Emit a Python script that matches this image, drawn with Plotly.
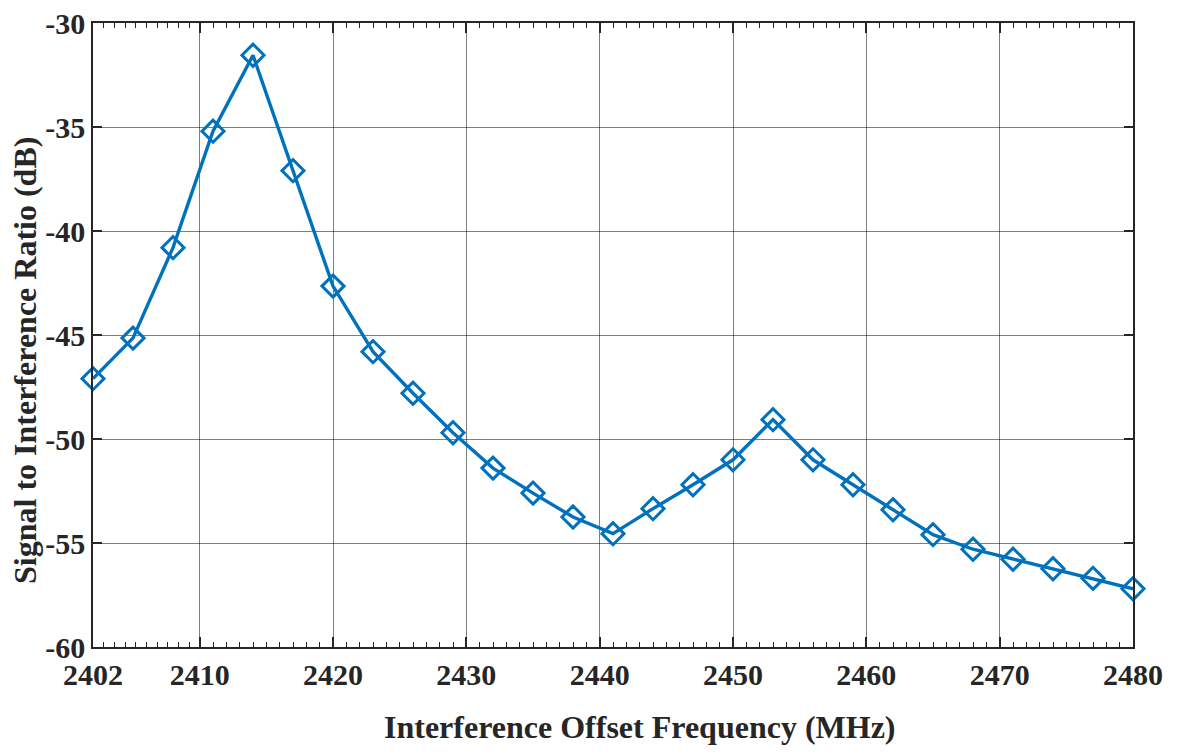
import numpy as np
import plotly.graph_objects as go

# Interference offset frequency (MHz) and measured signal-to-interference ratio (dB)
freq_mhz = [2402, 2405, 2408, 2411, 2414, 2417, 2420, 2423, 2426, 2429, 2432, 2435, 2438, 2441,
            2444, 2447, 2450, 2453, 2456, 2459, 2462, 2465, 2468, 2471, 2474, 2477, 2480]
sir_db = [-47.1, -45.15, -40.8, -35.2, -31.55, -37.1, -42.65, -45.8, -47.8, -49.7, -51.4, -52.6,
          -53.75, -54.55, -53.35, -52.2, -51.0, -49.07, -51.0, -52.2, -53.4, -54.6, -55.3, -55.78,
          -56.24, -56.7, -57.2]

x_ticks = [2402, 2410, 2420, 2430, 2440, 2450, 2460, 2470, 2480]
y_ticks = [-60, -55, -50, -45, -40, -35, -30]

# minor ticks: finer spacing in the first (shorter) interval, 1 MHz afterwards
x_minor = list(np.linspace(2402, 2410, 11)[1:-1]) + [v for v in range(2411, 2480) if v % 10 != 0]

blue = "#0072BD"
axis_col = "#262626"
font_family = "Liberation Serif"

fig = go.Figure()
fig.add_trace(go.Scatter(
    x=freq_mhz, y=sir_db, mode="lines+markers",
    line=dict(color=blue, width=3.4),
    marker=dict(symbol="diamond-open", size=17, color=blue, line=dict(width=3, color=blue)),
    showlegend=False, cliponaxis=False,
))

fig.update_layout(
    width=1186, height=756,
    margin=dict(l=93, r=53, t=23, b=109, autoexpand=False),
    paper_bgcolor="white", plot_bgcolor="white",
    font=dict(family=font_family, size=30, color=axis_col),
)
fig.update_xaxes(
    range=[2402, 2480], tickmode="array", tickvals=x_ticks,
    ticktext=[f"<b>{v}</b>" for v in x_ticks],
    showline=True, linecolor=axis_col, linewidth=1.6, mirror="ticks",
    ticks="inside", ticklen=10, tickwidth=1.6, tickcolor=axis_col,
    showgrid=True, gridcolor="rgba(0,0,0,0.5)", gridwidth=1,
    zeroline=False, automargin=False,
    tickfont=dict(family=font_family, size=30, color=axis_col),
    minor=dict(tickmode="array", tickvals=x_minor, ticks="inside", ticklen=5,
               tickwidth=1.2, tickcolor=axis_col, showgrid=False),
)
fig.update_yaxes(
    range=[-60, -30], tickmode="array", tickvals=y_ticks,
    ticktext=[f"<b>{v}</b>" for v in y_ticks],
    showline=True, linecolor=axis_col, linewidth=1.6, mirror="ticks",
    ticks="inside", ticklen=9, tickwidth=1.6, tickcolor=axis_col,
    showgrid=True, gridcolor="rgba(0,0,0,0.5)", gridwidth=1,
    zeroline=False, automargin=False,
    tickfont=dict(family=font_family, size=30, color=axis_col),
)

# axis titles as annotations positioned in paper coordinates
fig.add_annotation(
    text="<b>Interference Offset Frequency (MHz)</b>",
    xref="paper", yref="paper", x=0.526, y=-0.128,
    xanchor="center", yanchor="middle", showarrow=False,
    font=dict(family=font_family, size=32, color=axis_col),
)
fig.add_annotation(
    text="<b>Signal to Interference Ratio (dB)</b>", textangle=-90,
    xref="paper", yref="paper", x=-0.0654, y=0.46,
    xanchor="center", yanchor="middle", showarrow=False,
    font=dict(family=font_family, size=32, color=axis_col),
)

fig.write_html("out.html")
